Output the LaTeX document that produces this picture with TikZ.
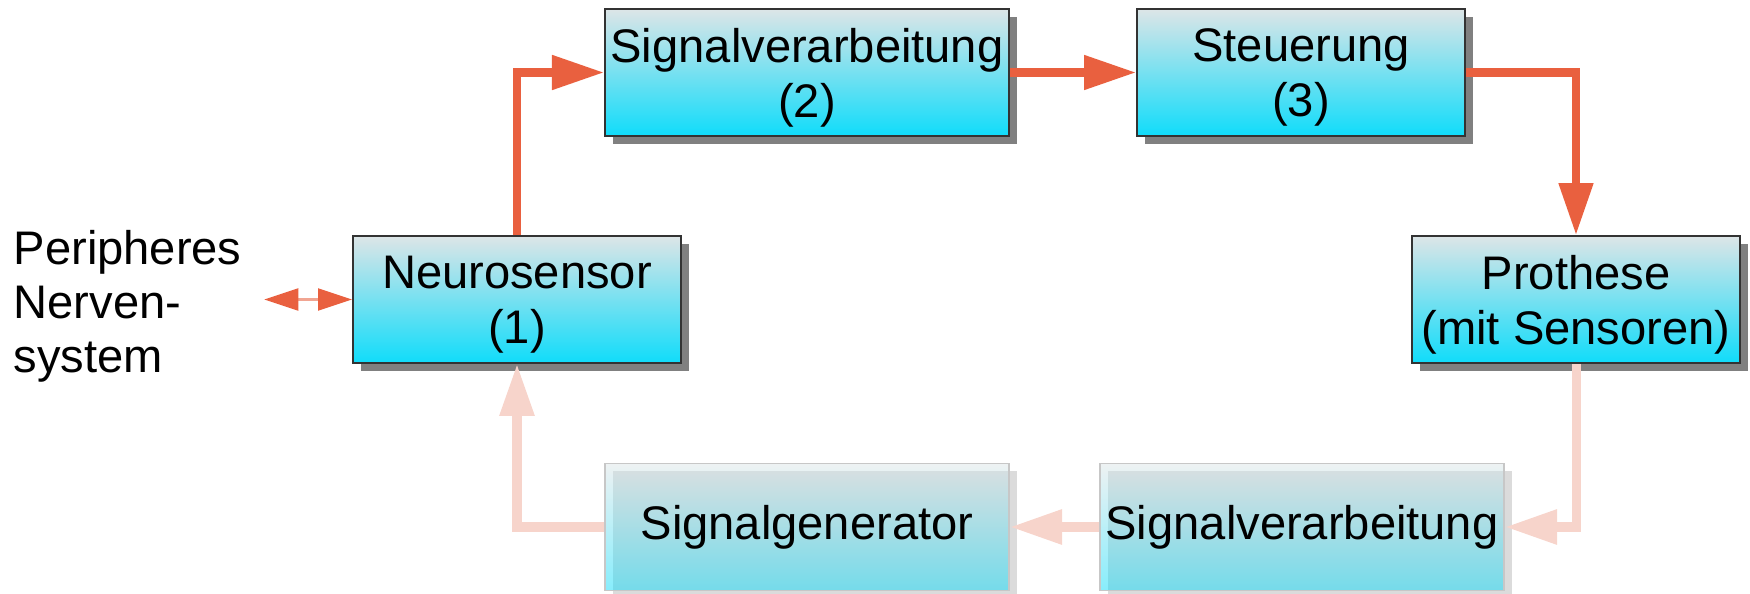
\documentclass[tikz,border=0pt]{standalone}
\usepackage{fontspec}
\setmainfont{Liberation Sans}
\usetikzlibrary{arrows.meta,shadows}
\definecolor{boxtop}{RGB}{221,229,231}
\definecolor{boxbot}{RGB}{16,220,250}
\definecolor{flowred}{RGB}{233,96,63}
\definecolor{flowpale}{RGB}{247,212,203}
\definecolor{flowthin}{RGB}{241,165,146}

\begin{document}
\begin{tikzpicture}[
    x=0.01cm, y=-0.01cm,
    box/.style={rectangle,align=center,inner sep=0pt,minimum width=3.28cm,minimum height=1.27cm,
        top color=boxtop,bottom color=boxbot,font=\fontsize{13.4}{15.6}\selectfont},
    solid/.style={box,draw=black!80,line width=0.5pt,text depth=0pt,
        drop shadow={shadow xshift=0.08cm,shadow yshift=-0.08cm,fill=black!50,opacity=1}},
    faded/.style={box,draw=black!22,line width=0.5pt,fill opacity=0.5,text opacity=1,minimum width=4.04cm,
        drop shadow={shadow xshift=0.08cm,shadow yshift=-0.08cm,fill=black!14,opacity=1}},
    flow/.style={draw=flowred,line width=0.08cm,-{Triangle[length=5.2mm,width=3.3mm]}},
    back/.style={flow,draw=flowpale,line width=0.09cm},
    link/.style={draw=flowthin,line width=0.6pt,
        {Triangle[length=3.4mm,width=2.2mm,color=flowred]}-{Triangle[length=3.4mm,width=2.2mm,color=flowred]}},
    ]
    \useasboundingbox (0,0) rectangle (1750,594);
    \node[solid] (NS) at (517,299.5) {Neurosensor\\(1)};
    \node[solid,minimum width=4.04cm] (SV) at (807,72.5) {Signalverarbeitung\\(2)};
    \node[solid] (ST) at (1301,72.5) {Steuerung\\(3)};
    \node[solid] (PR) at (1576,299.5) {Prothese\\(mit Sensoren)};
    \node[faded] (SG) at (807,527) {Signalgenerator};
    \node[faded] (SR) at (1302,527) {Signalverarbeitung};
    \node[anchor=west,align=left,inner sep=0pt,font=\fontsize{13.4}{15.4}\selectfont] (PN) at (13,306)
        {Peripheres\\Nerven-\\system};
    \draw[flow] (NS.north) |- (SV.west);
    \draw[flow] (SV.east) -- (ST.west);
    \draw[flow] (ST.east) -| (PR.north);
    \draw[back] (PR.south) |- (SR.east);
    \draw[back] (SR.west) -- (SG.east);
    \draw[back] (SG.west) -| (NS.south);
    \draw[link] ([xshift=0.22cm]PN.east |- NS.west) -- (NS.west);
\end{tikzpicture}
\end{document}
